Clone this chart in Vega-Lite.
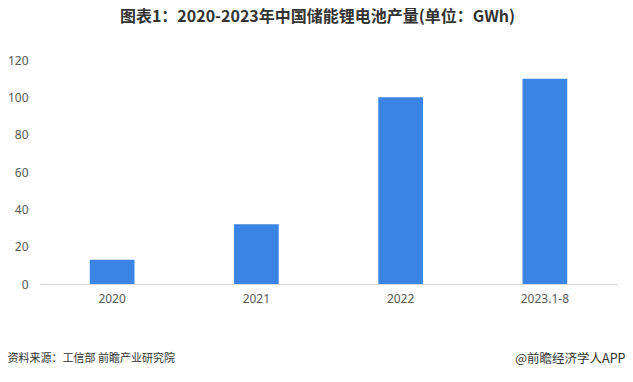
{
  "$schema": "https://vega.github.io/schema/vega-lite/v6.json",
  "autosize": "none",
  "width": 577,
  "height": 224,
  "padding": {"left": 40, "top": 60, "right": 16, "bottom": 98},
  "background": "white",
  "title": {
    "text": "图表1：2020-2023年中国储能锂电池产量(单位：GWh)",
    "font": "Noto Sans CJK SC",
    "fontSize": 16,
    "fontWeight": "bold",
    "color": "#333333",
    "anchor": "middle",
    "frame": "group",
    "dx": -11,
    "offset": 29
  },
  "data": {
    "values": [
      {"year": "2020", "output": 13},
      {"year": "2021", "output": 32},
      {"year": "2022", "output": 100},
      {"year": "2023.1-8", "output": 110}
    ]
  },
  "mark": {"type": "bar", "color": "#3a85e4"},
  "encoding": {
    "x": {
      "field": "year",
      "type": "nominal",
      "sort": null,
      "scale": {"paddingInner": 0.69, "paddingOuter": 0.345},
      "axis": {
        "title": "@前瞻经济学人APP",
        "titleFont": "Noto Sans CJK SC",
        "titleFontSize": 12.5,
        "titleFontWeight": "normal",
        "titleColor": "#333333",
        "titleAlign": "right",
        "titleAnchor": null,
        "titleBaseline": "middle",
        "titleX": 585,
        "titleY": 74,
        "labelAngle": 0,
        "labelFont": "Noto Sans",
        "labelFontSize": 12,
        "labelColor": "#595959",
        "labelPadding": 9,
        "ticks": false,
        "domainColor": "#d9d9d9",
        "domainWidth": 1
      }
    },
    "y": {
      "field": "output",
      "type": "quantitative",
      "scale": {"domain": [0, 120]},
      "axis": {
        "values": [0, 20, 40, 60, 80, 100, 120],
        "title": "资料来源：工信部 前瞻产业研究院",
        "titleFont": "Noto Sans CJK SC",
        "titleFontSize": 11,
        "titleFontWeight": "normal",
        "titleColor": "#333333",
        "titleAngle": 0,
        "titleAlign": "left",
        "titleAnchor": null,
        "titleBaseline": "middle",
        "titleX": -33,
        "titleY": 298,
        "labelFont": "Noto Sans",
        "labelFontSize": 12,
        "labelColor": "#595959",
        "labelPadding": 12,
        "ticks": false,
        "domain": false,
        "grid": false
      }
    }
  },
  "config": {"view": {"stroke": null}}
}
